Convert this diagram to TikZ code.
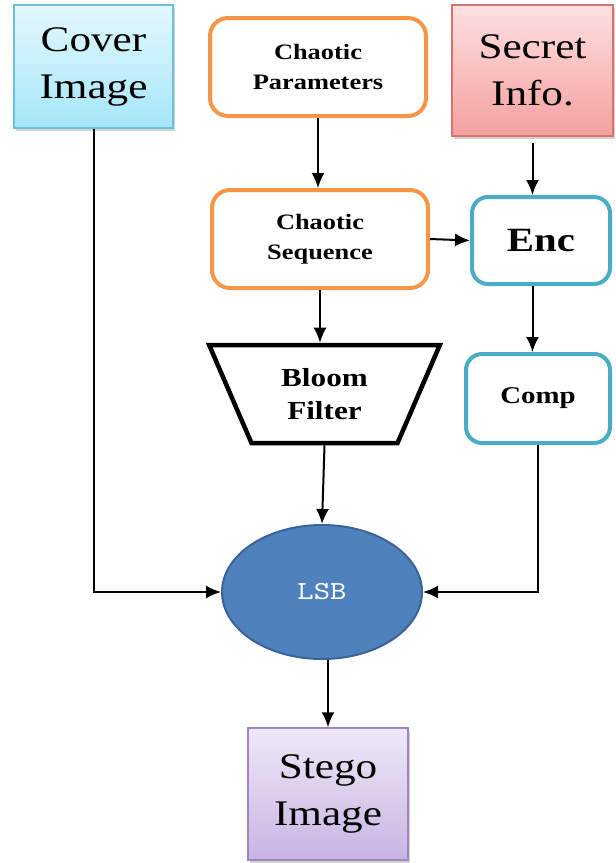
\documentclass[tikz,border=0pt]{standalone}
\usepackage{fontspec}
\setmainfont{Liberation Serif}[FakeStretch=1.2]
\newfontfamily\lsbfont[FakeStretch=1.2]{lmmono10-regular.otf}
\usetikzlibrary{shapes.geometric,arrows.meta,shadows}

\definecolor{cyanTop}{HTML}{E2F8FD}
\definecolor{cyanBot}{HTML}{A6E6F8}
\definecolor{cyanLine}{HTML}{6CC0D8}
\definecolor{pinkTop}{HTML}{FDE0E0}
\definecolor{pinkBot}{HTML}{F5A0A0}
\definecolor{pinkLine}{HTML}{D9726E}
\definecolor{purpTop}{HTML}{EFE8F8}
\definecolor{purpBot}{HTML}{C8B4E2}
\definecolor{purpLine}{HTML}{9E86C4}
\definecolor{orangeLine}{HTML}{F79646}
\definecolor{blueLine}{HTML}{4BACC6}
\definecolor{lsbFill}{HTML}{4F81BD}
\definecolor{lsbLine}{HTML}{3A639A}

\begin{document}
\begin{tikzpicture}[x=1pt,y=-1pt,
    imgbox/.style={rectangle,line width=1.5pt,align=center,
      font=\fontsize{36}{47}\selectfont,
      drop shadow={opacity=0.35,shadow xshift=2pt,shadow yshift=-3pt}},
    chaosbox/.style={rectangle,rounded corners=18pt,draw=orangeLine,line width=4pt,
      minimum width=216pt,minimum height=98pt,align=center,
      font=\bfseries\fontsize{22}{30}\selectfont},
    procbox/.style={rectangle,rounded corners=16pt,draw=blueLine,line width=4pt,
      align=center,font=\bfseries\fontsize{#1}{30}\selectfont},
    flow/.style={-{Latex[length=15pt,width=13pt]},line width=2pt}]
  \useasboundingbox (0,0) rectangle (616,863);

  % inputs
  \node[imgbox,draw=cyanLine,top color=cyanTop,bottom color=cyanBot,
    minimum width=159pt,minimum height=123pt] (cover) at (93.5,66.5) {Cover\\Image};
  \node[imgbox,draw=pinkLine,top color=pinkTop,bottom color=pinkBot,
    minimum width=161pt,minimum height=131pt] (secret) at (532.5,70.5) {Secret\\Info.};

  % chaotic part
  \node[chaosbox] (params) at (318,67) {Chaotic\\Parameters};
  \node[chaosbox] (seq) at (320,239) {Chaotic\\Sequence};
  \node[trapezium,shape border rotate=180,trapezium left angle=65,trapezium right angle=65,
    trapezium stretches=true,minimum width=231pt,minimum height=98pt,draw,line width=4.5pt,
    align=center,font=\bfseries\fontsize{26}{33}\selectfont] (bloom) at (324.5,394) {Bloom\\Filter};

  % secret part
  \node[procbox=34,minimum width=138pt,minimum height=87pt] (enc) at (541,240.5) {Enc};
  \node[procbox=24,minimum width=144pt,minimum height=89pt] (comp) at (538,398.5) {Comp};

  % embedding
  \node[ellipse,fill=lsbFill,draw=lsbLine,line width=2pt,minimum width=200pt,minimum height=134pt,
    text=white,font=\lsbfont\fontsize{26}{28}\selectfont] (lsb) at (322,592) {LSB};
  \node[imgbox,draw=purpLine,top color=purpTop,bottom color=purpBot,
    minimum width=160pt,minimum height=132pt] (stego) at (328,794) {Stego\\Image};

  % connectors
  \draw[flow] (params.south) -- (params.south |- seq.north);
  \draw[flow,shorten <=6pt] (secret.south) -- (secret.south |- enc.north);
  \draw[flow] (seq.east) -- (enc.west);
  \draw[flow] (enc.south -| secret.south) -- (secret.south |- comp.north);
  \draw[flow] (seq.south) -- (seq.south |- bloom.north);
  \draw[flow] (bloom.south) -- (lsb.north);
  \draw[flow] (cover.south) |- (lsb.west);
  \draw[flow] (comp.south) |- (lsb.east);
  \draw[flow] (lsb.south -| stego.north) -- (stego.north);
\end{tikzpicture}
\end{document}
